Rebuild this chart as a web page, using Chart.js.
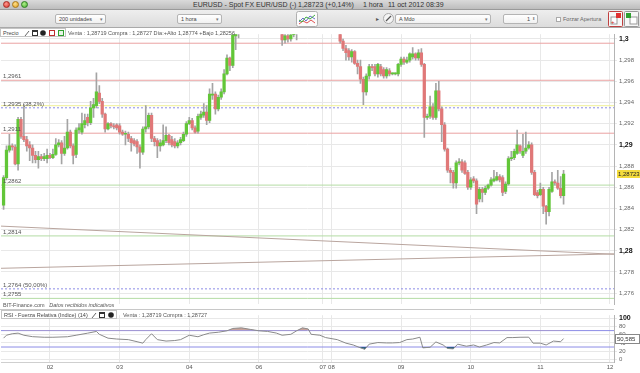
<!DOCTYPE html>
<html><head><meta charset="utf-8">
<script src="https://cdn.jsdelivr.net/npm/chart.js@4.4.1/dist/chart.umd.min.js"></script>
<style>
html,body{margin:0;padding:0;}
body{width:640px;height:373px;overflow:hidden;background:#fff;position:relative;font-family:"Liberation Sans",Arial,sans-serif;}
.abs{position:absolute;}
#titlebar{left:0;top:0;width:640px;height:10px;background:linear-gradient(#dadada,#bdbdbd);border-bottom:1px solid #9a9a9a;box-sizing:border-box;}
.tl{position:absolute;top:1px;width:7px;height:7px;border-radius:50%;box-sizing:border-box;}
.tt{position:absolute;top:0;font-size:7px;line-height:10px;color:#333;white-space:pre;}
#toolbar{left:0;top:10px;width:640px;height:18px;background:linear-gradient(#eeeeee,#dcdcdc);border-bottom:1px solid #a9a9a9;box-sizing:border-box;}
.sel{position:absolute;height:10px;background:linear-gradient(#fff,#f1f1f1);border:1px solid #b4b4b4;border-radius:2px;box-sizing:border-box;font-size:5.5px;line-height:8px;color:#444;padding-left:3px;white-space:pre;}
.arr{position:absolute;right:2px;top:0;font-size:5px;color:#777;}
.small{position:absolute;font-size:5.5px;line-height:8px;color:#444;white-space:pre;}
canvas{position:absolute;left:0;}
</style></head>
<body>
<canvas id="main" width="640" height="282" style="top:28px"></canvas>
<canvas id="rsi" width="640" height="64" style="top:309px"></canvas>
<div class="abs" style="left:0;top:309px;width:614px;height:1px;background:#c8c8c8"></div>

<div id="titlebar" class="abs">
  <div class="tl" style="left:3px;background:radial-gradient(circle at 40% 35%,#ff9a90,#d8332b);border:0.5px solid #a52a22"></div>
  <div class="tl" style="left:12px;background:radial-gradient(circle at 40% 35%,#ffe08a,#e0a020);border:0.5px solid #a8781a"></div>
  <div class="tl" style="left:21px;background:radial-gradient(circle at 40% 35%,#b2f08a,#46b032);border:0.5px solid #2f7e22"></div>
  <div class="tt" style="left:193px">EURUSD - Spot FX EUR/USD (-)</div>
  <div class="tt" style="left:298px">1,28723 (+0,14%)</div>
  <div class="tt" style="left:363px">1 hora</div>
  <div class="tt" style="left:388px">11 oct 2012 08:39</div>
</div>
<div id="toolbar" class="abs">
  <div class="sel" style="left:55px;top:4px;width:51px">200 unidades<span class="arr">▾</span></div>
  <div class="sel" style="left:177px;top:4px;width:45px">1 hora<span class="arr">▾</span></div>
  <svg class="abs" style="left:296px;top:1px" width="22" height="16">
    <rect x="0.5" y="0.5" width="21" height="15" rx="2" fill="#fbfbfb" stroke="#b0b0b0"/>
    <polyline points="3,11 7,7 10,10 14,5 19,8" fill="none" stroke="#6a6ad0" stroke-width="1"/>
    <polyline points="3,13 7,10 11,12 15,9 19,12" fill="none" stroke="#e05050" stroke-width="1"/>
    <polyline points="3,9 6,11 10,6 14,8 19,4" fill="none" stroke="#40b040" stroke-width="1"/>
  </svg>
  <div class="small" style="left:376px;top:5px;color:#555">▸</div>
  <svg class="abs" style="left:383px;top:3px" width="11" height="11">
    <circle cx="5.5" cy="5.5" r="5" fill="#f4f4f4" stroke="#aaa"/>
    <line x1="3" y1="8" x2="8" y2="3" stroke="#555" stroke-width="1.2"/>
  </svg>
  <div class="sel" style="left:395px;top:4px;width:96px">A Mdo<span class="arr">▾</span></div>
  <div class="sel" style="left:503px;top:4px;width:35px;text-align:right;padding-right:7px">1<span class="arr" style="font-size:4px">⬍</span></div>
  <div class="abs" style="left:556px;top:7px;width:5px;height:5px;border:1px solid #aaa;background:#fff;box-sizing:border-box"></div>
  <div class="small" style="left:563px;top:5px;color:#666">Forzar Apertura</div>
  <svg class="abs" style="left:608px;top:1px" width="15" height="16">
    <rect x="0.5" y="0.5" width="14" height="15" rx="1" fill="#f7f7f7" stroke="#c04040"/>
    <rect x="3" y="6" width="6" height="7" fill="#fff" stroke="#999"/>
    <rect x="8" y="2" width="5" height="5" fill="#e03030"/>
    <text x="3" y="13" font-size="6" fill="#d02020">+</text>
  </svg>
  <svg class="abs" style="left:624px;top:1px" width="15" height="16">
    <rect x="0.5" y="0.5" width="14" height="15" rx="1" fill="#f7f7f7" stroke="#999"/>
    <rect x="6" y="6" width="7" height="7" fill="#fff" stroke="#999"/>
    <rect x="2" y="2" width="5" height="5" fill="#30a030"/>
  </svg>
</div>

<!-- price panel header -->
<div class="abs" style="left:0;top:28px;width:66px;height:9px;border:1px solid #c4c4c4;background:#fff;box-sizing:border-box">
  <div class="small" style="left:2px;top:0;line-height:8px">Precio</div>
  <svg class="abs" style="left:22px;top:0" width="44" height="8">
    <line x1="2" y1="7" x2="6" y2="2" stroke="#666" stroke-width="1"/>
    <rect x="9.5" y="1.5" width="5" height="5" fill="#fff" stroke="#333"/>
    <rect x="9.5" y="1.5" width="5" height="1.5" fill="#333"/>
    <circle cx="20" cy="4" r="2.8" fill="#222"/>
    <rect x="26.5" y="1.5" width="5" height="5" fill="#fff" stroke="#c03030"/>
    <rect x="35.5" y="1.5" width="5" height="5" fill="#e8f4e8" stroke="#30a030"/>
  </svg>
</div>
<div class="small" style="left:68px;top:28.5px;color:#555">Venta : 1,28719 Compra : 1,28727 Día:+Alto 1,28774 +Bajo 1,28256</div>
<div class="small" style="left:3px;top:301px;color:#555">BIT-Finance.com   <i>Datos recibidos indicativos</i></div>

<!-- RSI header -->
<div class="abs" style="left:1px;top:310px;width:116px;height:9px;border:1px solid #c4c4c4;background:#fff;box-sizing:border-box">
  <div class="small" style="left:2px;top:0;line-height:8px">RSI - Fuerza Relativa (Indice) (14)</div>
  <svg class="abs" style="left:88px;top:0" width="28" height="8">
    <line x1="2" y1="7" x2="6" y2="2" stroke="#666" stroke-width="1"/>
    <rect x="9.5" y="1.5" width="5" height="5" fill="#fff" stroke="#333"/>
    <rect x="9.5" y="1.5" width="5" height="1.5" fill="#333"/>
    <circle cx="21" cy="4" r="2.8" fill="#222"/>
  </svg>
</div>
<div class="small" style="left:123px;top:310.5px;color:#555">Venta : 1,28719 Compra : 1,28727</div>

<script>
// ---------- DATA ----------
// hourly candles, slot 1..194 (Oct 1 07:00 -> Oct 11 08:00, weekend compressed)
const candleOpen = [
1.2843,1.2869,1.2895,1.2899,1.2898,1.2882,1.2924,1.2908,1.2905,1.2900,
1.2897,1.2890,1.2886,1.2889,1.2887,1.2887,1.2890,1.2888,1.2891,1.2900,
1.2902,1.2892,1.2897,1.2912,1.2899,1.2891,1.2914,1.2912,1.2919,1.2926,
1.2921,1.2935,1.2937,1.2949,1.2941,1.2929,1.2915,1.2920,1.2918,1.2919,
1.2918,1.2912,1.2910,1.2910,1.2906,1.2904,1.2903,1.2898,1.2893,1.2915,
1.2917,1.2928,1.2906,1.2904,1.2899,1.2900,1.2904,1.2909,1.2905,1.2903,
1.2899,1.2902,1.2904,1.2910,1.2920,1.2923,1.2916,1.2913,1.2926,1.2928,
1.2931,1.2923,1.2947,1.2948,1.2934,1.2945,1.2950,1.2967,1.2982,1.2975,
1.3003,1.3010,1.3018,1.3012,1.3022,1.3030,1.3024,1.3033,1.3038,1.3031,
1.3027,1.3021,1.3025,1.3017,1.3020,1.3013,1.3006,1.2999,1.3003,1.3000,
1.3004,1.3012,1.3018,1.3024,1.3019,1.3027,1.3030,1.3023,1.3018,1.3022,
1.3016,1.3020,1.3015,1.3018,1.3014,1.3019,1.3015,1.2998,1.2991,1.2989,
1.2983,1.2988,1.2977,1.2974,1.2962,1.2950,1.2965,1.2974,1.2974,1.2967,
1.2974,1.2971,1.2965,1.2970,1.2967,1.2967,1.2967,1.2976,1.2981,1.2978,
1.2980,1.2983,1.2986,1.2982,1.2987,1.2976,1.2926,1.2927,1.2936,1.2926,
1.2951,1.2934,1.2919,1.2896,1.2876,1.2874,1.2864,1.2883,1.2884,1.2883,
1.2874,1.2860,1.2868,1.2866,1.2849,1.2858,1.2855,1.2859,1.2862,1.2866,
1.2867,1.2870,1.2869,1.2856,1.2863,1.2887,1.2888,1.2892,1.2899,1.2890,
1.2894,1.2897,1.2900,1.2874,1.2855,1.2853,1.2858,1.2842,1.2837,1.2856,
1.2865,1.2864,1.2859,1.2852];
const candleHigh = [
1.2871,1.2899,1.2910,1.2901,1.2900,1.2926,1.2926,1.2938,1.2908,1.2903,
1.2900,1.2894,1.2894,1.2891,1.2892,1.2896,1.2892,1.2896,1.2906,1.2905,
1.2904,1.2908,1.2924,1.2914,1.2901,1.2916,1.2920,1.2930,1.2929,1.2929,
1.2941,1.2944,1.2968,1.2956,1.2944,1.2930,1.2921,1.2921,1.2920,1.2920,
1.2920,1.2914,1.2913,1.2912,1.2908,1.2906,1.2905,1.2900,1.2917,1.2937,
1.2930,1.2930,1.2908,1.2906,1.2905,1.2919,1.2917,1.2910,1.2908,1.2906,
1.2904,1.2907,1.2912,1.2922,1.2926,1.2925,1.2918,1.2929,1.2932,1.2939,
1.2937,1.2953,1.2958,1.2950,1.2947,1.2953,1.2971,1.2985,1.2983,1.3007,
1.3014,1.3022,1.3025,1.3026,1.3034,1.3038,1.3036,1.3042,1.3045,1.3040,
1.3034,1.3030,1.3032,1.3026,1.3024,1.3018,1.3011,1.3008,1.3009,1.3012,
1.3016,1.3022,1.3028,1.3031,1.3030,1.3035,1.3036,1.3029,1.3026,1.3028,
1.3024,1.3025,1.3022,1.3024,1.3023,1.3026,1.3020,1.3000,1.2994,1.2991,
1.2990,1.2989,1.2980,1.2980,1.2964,1.2967,1.2976,1.2976,1.2976,1.2977,
1.2976,1.2973,1.2973,1.2972,1.2968,1.2968,1.2977,1.2983,1.2983,1.2983,
1.2987,1.2992,1.2987,1.2990,1.2991,1.2977,1.2929,1.2946,1.2939,1.2958,
1.2960,1.2936,1.2921,1.2897,1.2878,1.2876,1.2885,1.2887,1.2886,1.2885,
1.2876,1.2869,1.2870,1.2868,1.2860,1.2860,1.2861,1.2863,1.2869,1.2876,
1.2874,1.2872,1.2871,1.2865,1.2889,1.2894,1.2896,1.2914,1.2900,1.2910,
1.2912,1.2903,1.2902,1.2876,1.2857,1.2864,1.2860,1.2843,1.2860,1.2874,
1.2867,1.2876,1.2870,1.2876];
const candleLow = [
1.2839,1.2867,1.2893,1.2895,1.2881,1.2876,1.2906,1.2903,1.2894,1.2885,
1.2883,1.2883,1.2878,1.2885,1.2885,1.2883,1.2887,1.2887,1.2890,1.2898,
1.2882,1.2890,1.2896,1.2897,1.2882,1.2888,1.2911,1.2910,1.2916,1.2918,
1.2919,1.2926,1.2935,1.2939,1.2926,1.2912,1.2914,1.2916,1.2915,1.2914,
1.2910,1.2909,1.2900,1.2903,1.2894,1.2899,1.2892,1.2878,1.2891,1.2912,
1.2915,1.2903,1.2899,1.2888,1.2894,1.2899,1.2902,1.2900,1.2898,1.2897,
1.2897,1.2900,1.2903,1.2908,1.2919,1.2914,1.2911,1.2911,1.2924,1.2926,
1.2919,1.2921,1.2943,1.2929,1.2932,1.2943,1.2948,1.2966,1.2970,1.2973,
1.2990,1.3001,1.3008,1.3009,1.3018,1.3020,1.3020,1.3027,1.3028,1.3024,
1.3018,1.3016,1.3014,1.3012,1.3010,1.3005,1.2994,1.2996,1.2997,1.2998,
1.3002,1.2999,1.3012,1.3015,1.3014,1.3021,1.3019,1.3015,1.3012,1.3014,
1.3010,1.3012,1.3009,1.3011,1.3010,1.3012,1.2996,1.2989,1.2980,1.2980,
1.2978,1.2976,1.2967,1.2958,1.2938,1.2947,1.2962,1.2970,1.2965,1.2964,
1.2965,1.2963,1.2963,1.2965,1.2966,1.2966,1.2965,1.2974,1.2976,1.2977,
1.2978,1.2981,1.2980,1.2980,1.2974,1.2907,1.2924,1.2925,1.2924,1.2924,
1.2932,1.2903,1.2894,1.2874,1.2864,1.2859,1.2859,1.2881,1.2874,1.2872,
1.2858,1.2858,1.2864,1.2835,1.2846,1.2846,1.2853,1.2858,1.2861,1.2865,
1.2866,1.2865,1.2852,1.2854,1.2862,1.2885,1.2886,1.2891,1.2892,1.2888,
1.2892,1.2896,1.2872,1.2852,1.2850,1.2852,1.2835,1.2825,1.2833,1.2855,
1.2862,1.2858,1.2850,1.2844];
const candleClose = [
1.2869,1.2895,1.2899,1.2898,1.2882,1.2924,1.2908,1.2905,1.2899,1.2897,
1.2890,1.2886,1.2889,1.2887,1.2889,1.2890,1.2888,1.2891,1.2900,1.2902,
1.2892,1.2897,1.2912,1.2899,1.2890,1.2914,1.2916,1.2920,1.2923,1.2921,
1.2935,1.2938,1.2950,1.2941,1.2929,1.2915,1.2920,1.2918,1.2917,1.2916,
1.2912,1.2910,1.2911,1.2906,1.2902,1.2901,1.2898,1.2893,1.2915,1.2917,
1.2928,1.2906,1.2903,1.2899,1.2902,1.2904,1.2909,1.2902,1.2900,1.2899,
1.2902,1.2905,1.2910,1.2920,1.2923,1.2916,1.2912,1.2927,1.2929,1.2931,
1.2923,1.2948,1.2948,1.2934,1.2945,1.2950,1.2967,1.2982,1.2975,1.3004,
1.3010,1.3018,1.3012,1.3022,1.3030,1.3024,1.3033,1.3038,1.3031,1.3027,
1.3021,1.3025,1.3017,1.3020,1.3013,1.3008,1.2999,1.3003,1.3000,1.3004,
1.3012,1.3018,1.3024,1.3019,1.3027,1.3030,1.3023,1.3018,1.3022,1.3016,
1.3020,1.3015,1.3018,1.3014,1.3019,1.3015,1.2998,1.2991,1.2987,1.2983,
1.2988,1.2977,1.2974,1.2962,1.2950,1.2965,1.2974,1.2973,1.2967,1.2976,
1.2967,1.2965,1.2971,1.2967,1.2967,1.2967,1.2976,1.2981,1.2978,1.2980,
1.2986,1.2986,1.2982,1.2987,1.2976,1.2926,1.2927,1.2936,1.2926,1.2951,
1.2934,1.2919,1.2896,1.2876,1.2874,1.2864,1.2883,1.2884,1.2876,1.2873,
1.2860,1.2867,1.2866,1.2844,1.2858,1.2855,1.2859,1.2862,1.2867,1.2868,
1.2870,1.2867,1.2855,1.2863,1.2887,1.2888,1.2894,1.2900,1.2894,1.2894,
1.2897,1.2900,1.2874,1.2853,1.2852,1.2858,1.2842,1.2837,1.2858,1.2865,
1.2864,1.2859,1.2852,1.28723];

// day separators (slot positions) and their labels
const dayTickSlots  = [17, 41, 65, 89, 111, 114, 138, 162, 186, 210];
const dayTickLabels = ['02','03','04','06','07','08','09','10','11','12'];

// price axis ticks
const priceTicks = [1.276,1.278,1.28,1.282,1.284,1.286,1.288,1.29,1.292,1.294,1.296,1.298,1.3];
const priceTickLabels = ['1,276','1,278','1,28','1,282','1,284','1,286','1,288','1,29','1,292','1,294','1,296','1,298','1,3'];

// horizontal levels drawn on price panel
const levelPrices = [1.2996, 1.2961, 1.2937, 1.2935, 1.2911, 1.2862, 1.2814, 1.2764, 1.2755];
const levelLabels = ['', '1,2961', '', '1,2935 (38,2%)', '1,2911', '1,2862', '1,2814', '1,2764 (50,00%)', '1,2755'];

// regression channel lines (start / end prices)
const channelSlots = [-0.23, 211.4];
const channelUpper = [1.28233, 1.27967];
const channelLower = [1.27834, 1.27970];

const lastPrice = 1.28723;
const lastPriceLabel = '1,28723';

// RSI (14)
const rsiSlots = [1,2,4,6,8,11,15,18,23,26,30,33,34,37,40,44,47,49,50,52,54,57,60,62,65,68,70,72,75,78,80,83,86,89,92,95,97,100,102,104,106,107,110,112,116,119,121.5,124,125.5,127,130,133,135,137.5,140,142,144.5,145.5,148,150,152.5,154,156,157.5,160.5,163,165,167.5,170,172,174.5,176.5,179,182,183.5,186,188,190.5,193,194];
const rsiValues = [51.6,58.7,62.4,63.8,58.7,55.2,53.8,53.8,55,58.7,63.8,68,61,51.6,49.5,48,43,39.4,48,62.4,48,44.5,45.8,48,58.7,55,60,64,66,69.5,75.3,76.7,73,69.5,68,64,58.7,61,69.5,76.7,74,61,58.7,53,48,39.4,35,28,24.3,37,40.9,40,40,40.9,48,49.5,53.8,28,29.5,42.4,35,26.5,25.5,37,32,35,30,35,40.9,40,53,53,53.8,54,39.4,39.4,35,44.5,43,50.585];
const rsiTicks = [0,20,40,60,80,100];
const rsiTickLabels = ['0','20','40','60','80','100'];
const rsiLevels = [70, 30];
const rsiLastLabel = '50,585';

// ---------- STYLE / LAYOUT ----------
const X_MIN = 0.114, X_MAX = 211.38;
const FONT = '"Liberation Sans", Arial, sans-serif';
const UP = '#62c638', DOWN = '#e07878';
const levelColors = ['#eaa2a2','#eaa2a2','#efef98','#8c8ce6','#eaa2a2','#b4dca4','#b4dca4','#8c8ce6','#b4dca4'];
const levelDash = [[],[],[],[2,2],[],[],[],[2,2],[]];
const GRID = '#e8e8e8';

const slots = candleOpen.map((_, i) => i + 1);
const bodyData = slots.map((s, i) => ({x: s, y: [candleOpen[i], candleClose[i]]}));
const wickData = slots.map((s, i) => ({x: s, y: [candleLow[i], candleHigh[i]]}));
const bodyColors = slots.map((s, i) => candleClose[i] >= candleOpen[i] ? UP : DOWN);

const levelDatasets = levelPrices.map((p, i) => ({
  type: 'line', data: [{x: X_MIN, y: p}, {x: X_MAX, y: p}],
  borderColor: levelColors[i], borderWidth: 1, borderDash: levelDash[i],
  pointRadius: 0, order: 10
}));

const fixRight = s => { s.width = 26; };

const mainLabels = {
  id: 'mainLabels',
  afterDatasetsDraw(chart) {
    const {ctx} = chart, y = chart.scales.y;
    ctx.save();
    ctx.font = '6px ' + FONT;
    ctx.fillStyle = '#555';
    ctx.textBaseline = 'bottom';
    levelPrices.forEach((p, i) => {
      if (levelLabels[i]) ctx.fillText(levelLabels[i], 3, Math.round(y.getPixelForValue(p)) - 0.5);
    });
    const yp = Math.round(y.getPixelForValue(lastPrice));
    ctx.fillStyle = '#f4dc3c';
    ctx.fillRect(617, yp - 4, 23, 8);
    ctx.fillStyle = '#222';
    ctx.textBaseline = 'middle';
    ctx.fillText(lastPriceLabel, 618, yp + 0.5);
    ctx.restore();
  }
};

new Chart(document.getElementById('main'), {
  type: 'bar',
  data: {
    datasets: [
      ...levelDatasets,
      { type: 'line', data: channelSlots.map((s, i) => ({x: s, y: channelUpper[i]})), borderColor: '#b9a59e', borderWidth: 1, pointRadius: 0, order: 9 },
      { type: 'line', data: channelSlots.map((s, i) => ({x: s, y: channelLower[i]})), borderColor: '#b9a59e', borderWidth: 1, pointRadius: 0, order: 9 },
      { type: 'bar', data: wickData, backgroundColor: '#a4a4a4', barThickness: 1, grouped: false, order: 2 },
      { type: 'bar', data: bodyData, backgroundColor: bodyColors, barThickness: 2.6, minBarLength: 1, grouped: false, order: 1 }
    ]
  },
  options: {
    responsive: false, animation: false,
    layout: { padding: { left: 1, right: 0, top: 0, bottom: 0 } },
    plugins: { legend: { display: false }, tooltip: { enabled: false } },
    scales: {
      x: {
        type: 'linear', min: X_MIN, max: X_MAX, offset: false,
        grid: { color: GRID, drawTicks: false, offset: false },
        border: { display: false },
        ticks: { display: false },
        afterBuildTicks: s => { s.ticks = dayTickSlots.map(v => ({value: v})); },
        afterFit: s => { s.height = 0; }
      },
      y: {
        position: 'right', min: 1.274932, max: 1.300452,
        grid: { color: GRID, tickLength: 3 },
        border: { color: '#b4b4b4' },
        ticks: {
          padding: 2, autoSkip: false,
          color: c => (priceTickLabels[c.index] || '').length <= 4 ? '#111' : '#666',
          font: c => (priceTickLabels[c.index] || '').length <= 4 ? { family: FONT, size: 7, weight: 'bold' } : { family: FONT, size: 6 },
          callback: (v, i) => priceTickLabels[i]
        },
        afterBuildTicks: s => { s.ticks = priceTicks.map(v => ({value: v})); },
        afterFit: fixRight
      }
    }
  },
  plugins: [mainLabels]
});

const rsiLabels = {
  id: 'rsiLabels',
  afterDatasetsDraw(chart) {
    const {ctx} = chart, y = chart.scales.y;
    const yp = Math.round(y.getPixelForValue(rsiValues[rsiValues.length - 1]));
    ctx.save();
    ctx.fillStyle = '#fff';
    ctx.strokeStyle = '#888';
    ctx.fillRect(615.5, yp - 4.5, 24, 9);
    ctx.strokeRect(615.5, yp - 4.5, 24, 9);
    ctx.font = '6px ' + FONT;
    ctx.fillStyle = '#333';
    ctx.textBaseline = 'middle';
    ctx.fillText(rsiLastLabel, 617, yp + 0.5);
    ctx.restore();
  }
};

const rsiPts = rsiSlots.map((s, i) => ({x: s, y: rsiValues[i]}));
new Chart(document.getElementById('rsi'), {
  type: 'line',
  data: {
    datasets: [
      ...rsiLevels.map(v => ({ data: [{x: X_MIN, y: v}, {x: X_MAX, y: v}], borderColor: '#8c8ce6', borderWidth: 1, pointRadius: 0, order: 5 })),
      { data: rsiPts, borderColor: 'rgba(0,0,0,0)', borderWidth: 0, pointRadius: 0,
        fill: { target: { value: 30 }, above: 'rgba(0,0,0,0)', below: '#2e5f86' }, order: 3 },
      { data: rsiPts, borderColor: '#8a8a8a', borderWidth: 1, pointRadius: 0, tension: 0,
        fill: { target: { value: 70 }, above: '#c9a39a', below: 'rgba(0,0,0,0)' }, order: 1 }
    ]
  },
  options: {
    responsive: false, animation: false,
    layout: { padding: { left: 1, right: 0, top: 0, bottom: 0 } },
    plugins: { legend: { display: false }, tooltip: { enabled: false } },
    scales: {
      x: {
        type: 'linear', min: X_MIN, max: X_MAX,
        grid: { color: GRID, drawTicks: false },
        border: { color: '#cfcfcf' },
        ticks: { autoSkip: false, maxRotation: 0, padding: 2, color: '#555', font: { family: FONT, size: 6 },
                 callback: (v, i) => dayTickLabels[i] },
        afterBuildTicks: s => { s.ticks = dayTickSlots.map(v => ({value: v})); },
        afterFit: s => { s.height = 11; }
      },
      y: {
        position: 'right', min: -6.45, max: 107.5,
        grid: { color: GRID, tickLength: 3 },
        border: { color: '#b4b4b4' },
        ticks: {
          padding: 2, autoSkip: false,
          color: c => c.index === 5 ? '#111' : '#666',
          font: c => c.index === 5 ? { family: FONT, size: 7, weight: 'bold' } : { family: FONT, size: 6 },
          callback: (v, i) => rsiTickLabels[i]
        },
        afterBuildTicks: s => { s.ticks = rsiTicks.map(v => ({value: v})); },
        afterFit: fixRight
      }
    }
  },
  plugins: [rsiLabels]
});
</script>
</body></html>
